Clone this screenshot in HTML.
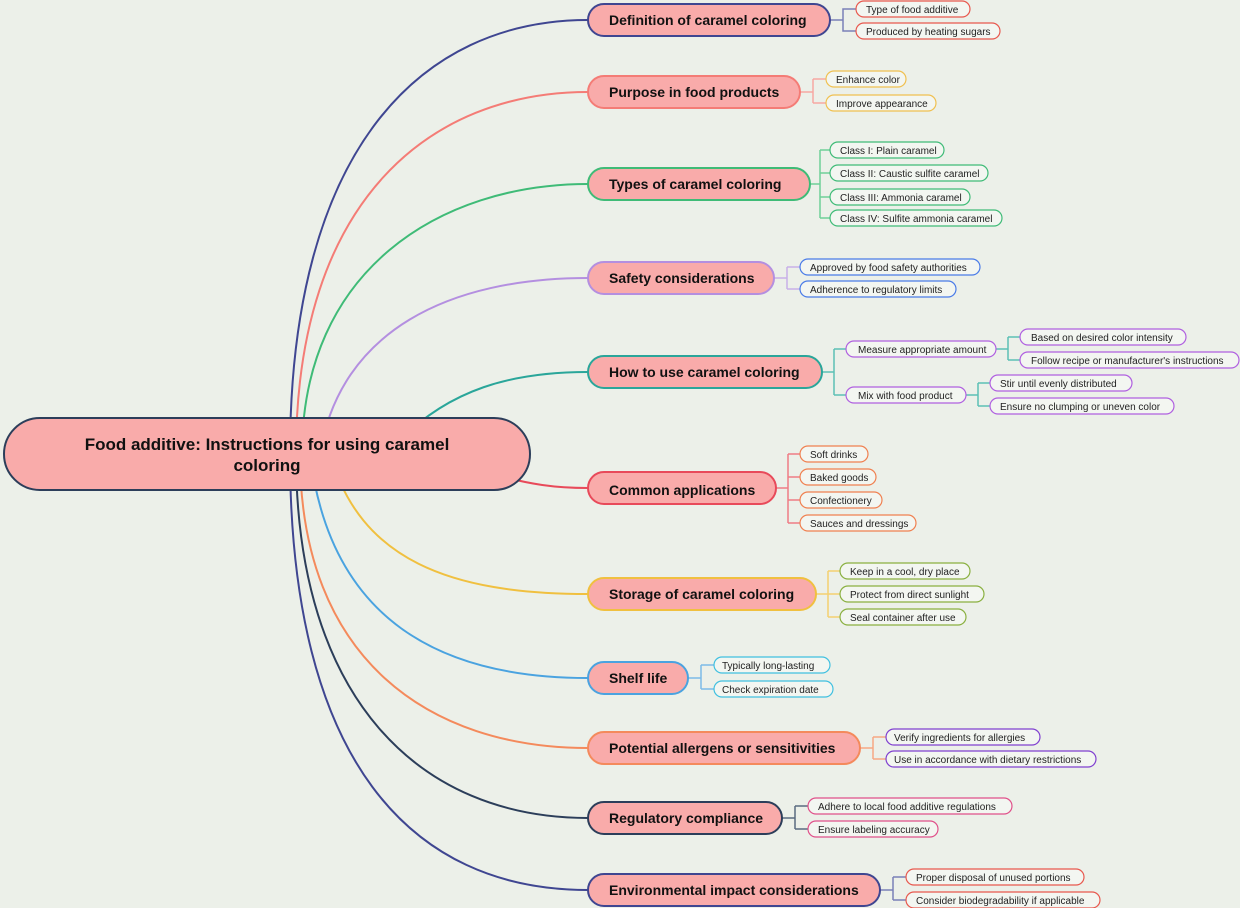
<!DOCTYPE html>
<html><head><meta charset="utf-8"><style>
body{margin:0;background:#ecf0e9;}
svg{display:block}
.b{font-family:"Liberation Sans","DejaVu Sans",sans-serif;font-weight:bold;font-size:14px;fill:#111}
.l{font-family:"Liberation Sans","DejaVu Sans",sans-serif;font-size:10px;fill:#222}
.lf{fill:#f3f6f1;stroke-width:1.2}
.bn{fill:#f9abaa;stroke-width:2}
</style></head><body>
<svg width="1240" height="908" viewBox="0 0 1240 908" xmlns="http://www.w3.org/2000/svg">
<rect width="1240" height="908" fill="#ecf0e9"/>
<g fill="none" stroke-width="2">
<path d="M290 454 C290 150 420 20 588 20" stroke="#3f4691"/>
<path d="M296 454 C296 200 430 92 588 92" stroke="#f47c76"/>
<path d="M302 454 C302 270 440 184 588 184" stroke="#3fbb77"/>
<path d="M320 454 C340 330 450 278 588 278" stroke="#b48fe0"/>
<path d="M400 440 C450 390 510 372 588 372" stroke="#2aa69a"/>
<path d="M480 470 C530 486 560 488 588 488" stroke="#e84a5a"/>
<path d="M330 454 C360 560 450 594 588 594" stroke="#f0c040"/>
<path d="M310 454 C330 620 440 678 588 678" stroke="#4aa3e0"/>
<path d="M300 454 C300 660 430 748 588 748" stroke="#f48a5c"/>
<path d="M296 454 C296 700 420 818 588 818" stroke="#2c3e5a"/>
<path d="M290 454 C290 760 410 890 588 890" stroke="#3f4691"/>
</g>
<g fill="none" stroke-width="1.5">
<path d="M830 20 H843 M848 9 H843 V31 H856 M843 9 H856" stroke="#7a80b8"/>
<path d="M800 92 H813 M813 79 V103 M813 79 H826 M813 103 H826" stroke="#f7a8a2"/>
<path d="M810 184 H820 M820 150 V218 M820 150 H830 M820 173 H830 M820 197 H830 M820 218 H830" stroke="#6fcf98"/>
<path d="M774 278 H787 M787 267 V289 M787 267 H800 M787 289 H800" stroke="#c8b0e8"/>
<path d="M822 372 H834 M834 349 V395 M834 349 H846 M834 395 H846" stroke="#5cc0b5"/>
<path d="M996 349 H1008 M1008 337 V360 M1008 337 H1020 M1008 360 H1020" stroke="#5cc0b5"/>
<path d="M966 395 H978 M978 383 V406 M978 383 H990 M978 406 H990" stroke="#5cc0b5"/>
<path d="M776 488 H788 M788 454 V523 M788 454 H800 M788 477 H800 M788 500 H800 M788 523 H800" stroke="#ef7c85"/>
<path d="M816 594 H828 M828 571 V617 M828 571 H840 M828 594 H840 M828 617 H840" stroke="#f4d070"/>
<path d="M688 678 H701 M701 665 V689 M701 665 H714 M701 689 H714" stroke="#7cbbe8"/>
<path d="M860 748 H873 M873 737 V759 M873 737 H886 M873 759 H886" stroke="#f6a884"/>
<path d="M782 818 H795 M795 806 V829 M795 806 H808 M795 829 H808" stroke="#5a6a80"/>
<path d="M880 890 H893 M893 877 V900 M893 877 H906 M893 900 H906" stroke="#7a80b8"/>
</g>
<rect x="4" y="418" width="526" height="72" rx="36" fill="#f9abaa" stroke="#2c3e5a" stroke-width="2"/>
<text x="267" y="450" text-anchor="middle" font-family="Liberation Sans, DejaVu Sans, sans-serif" font-weight="bold" font-size="17" fill="#111">Food additive: Instructions for using caramel</text>
<text x="267" y="471" text-anchor="middle" font-family="Liberation Sans, DejaVu Sans, sans-serif" font-weight="bold" font-size="17" fill="#111">coloring</text>
<g class="b">
<rect class="bn" x="588" y="4" width="242" height="32" rx="16" stroke="#3f4691"/><text x="609" y="25">Definition of caramel coloring</text>
<rect class="bn" x="588" y="76" width="212" height="32" rx="16" stroke="#f47c76"/><text x="609" y="97">Purpose in food products</text>
<rect class="bn" x="588" y="168" width="222" height="32" rx="16" stroke="#3fbb77"/><text x="609" y="189">Types of caramel coloring</text>
<rect class="bn" x="588" y="262" width="186" height="32" rx="16" stroke="#b48fe0"/><text x="609" y="283">Safety considerations</text>
<rect class="bn" x="588" y="356" width="234" height="32" rx="16" stroke="#2aa69a"/><text x="609" y="377">How to use caramel coloring</text>
<rect class="bn" x="588" y="472" width="188" height="32" rx="16" stroke="#e84a5a"/><text x="609" y="495">Common applications</text>
<rect class="bn" x="588" y="578" width="228" height="32" rx="16" stroke="#f0c040"/><text x="609" y="599">Storage of caramel coloring</text>
<rect class="bn" x="588" y="662" width="100" height="32" rx="16" stroke="#4aa3e0"/><text x="609" y="683">Shelf life</text>
<rect class="bn" x="588" y="732" width="272" height="32" rx="16" stroke="#f48a5c"/><text x="609" y="753">Potential allergens or sensitivities</text>
<rect class="bn" x="588" y="802" width="194" height="32" rx="16" stroke="#2c3e5a"/><text x="609" y="823">Regulatory compliance</text>
<rect class="bn" x="588" y="874" width="292" height="32" rx="16" stroke="#3f4691"/><text x="609" y="895">Environmental impact considerations</text>
</g>
<g class="l">
<rect class="lf" x="856" y="1" width="114" height="16" rx="8" stroke="#e8584e"/><text x="866" y="13">Type of food additive</text>
<rect class="lf" x="856" y="23" width="144" height="16" rx="8" stroke="#e8584e"/><text x="866" y="35">Produced by heating sugars</text>
<rect class="lf" x="826" y="71" width="80" height="16" rx="8" stroke="#f0c050"/><text x="836" y="83">Enhance color</text>
<rect class="lf" x="826" y="95" width="110" height="16" rx="8" stroke="#f0c050"/><text x="836" y="107">Improve appearance</text>
<rect class="lf" x="830" y="142" width="114" height="16" rx="8" stroke="#3fbb77"/><text x="840" y="154">Class I: Plain caramel</text>
<rect class="lf" x="830" y="165" width="158" height="16" rx="8" stroke="#3fbb77"/><text x="840" y="177">Class II: Caustic sulfite caramel</text>
<rect class="lf" x="830" y="189" width="140" height="16" rx="8" stroke="#3fbb77"/><text x="840" y="201">Class III: Ammonia caramel</text>
<rect class="lf" x="830" y="210" width="172" height="16" rx="8" stroke="#3fbb77"/><text x="840" y="222">Class IV: Sulfite ammonia caramel</text>
<rect class="lf" x="800" y="259" width="180" height="16" rx="8" stroke="#4a7be8"/><text x="810" y="271">Approved by food safety authorities</text>
<rect class="lf" x="800" y="281" width="156" height="16" rx="8" stroke="#4a7be8"/><text x="810" y="293">Adherence to regulatory limits</text>
<rect class="lf" x="846" y="341" width="150" height="16" rx="8" stroke="#b060e0"/><text x="858" y="353">Measure appropriate amount</text>
<rect class="lf" x="846" y="387" width="120" height="16" rx="8" stroke="#b060e0"/><text x="858" y="399">Mix with food product</text>
<rect class="lf" x="1020" y="329" width="166" height="16" rx="8" stroke="#b060e0"/><text x="1031" y="341">Based on desired color intensity</text>
<rect class="lf" x="1020" y="352" width="219" height="16" rx="8" stroke="#b060e0"/><text x="1031" y="364">Follow recipe or manufacturer's instructions</text>
<rect class="lf" x="990" y="375" width="142" height="16" rx="8" stroke="#b060e0"/><text x="1000" y="387">Stir until evenly distributed</text>
<rect class="lf" x="990" y="398" width="184" height="16" rx="8" stroke="#b060e0"/><text x="1000" y="410">Ensure no clumping or uneven color</text>
<rect class="lf" x="800" y="446" width="68" height="16" rx="8" stroke="#f08050"/><text x="810" y="458">Soft drinks</text>
<rect class="lf" x="800" y="469" width="76" height="16" rx="8" stroke="#f08050"/><text x="810" y="481">Baked goods</text>
<rect class="lf" x="800" y="492" width="82" height="16" rx="8" stroke="#f08050"/><text x="810" y="504">Confectionery</text>
<rect class="lf" x="800" y="515" width="116" height="16" rx="8" stroke="#f08050"/><text x="810" y="527">Sauces and dressings</text>
<rect class="lf" x="840" y="563" width="130" height="16" rx="8" stroke="#8ab040"/><text x="850" y="575">Keep in a cool, dry place</text>
<rect class="lf" x="840" y="586" width="144" height="16" rx="8" stroke="#8ab040"/><text x="850" y="598">Protect from direct sunlight</text>
<rect class="lf" x="840" y="609" width="126" height="16" rx="8" stroke="#8ab040"/><text x="850" y="621">Seal container after use</text>
<rect class="lf" x="714" y="657" width="116" height="16" rx="8" stroke="#40c0e0"/><text x="722" y="669">Typically long-lasting</text>
<rect class="lf" x="714" y="681" width="119" height="16" rx="8" stroke="#40c0e0"/><text x="722" y="693">Check expiration date</text>
<rect class="lf" x="886" y="729" width="154" height="16" rx="8" stroke="#8040d0"/><text x="894" y="741">Verify ingredients for allergies</text>
<rect class="lf" x="886" y="751" width="210" height="16" rx="8" stroke="#8040d0"/><text x="894" y="763">Use in accordance with dietary restrictions</text>
<rect class="lf" x="808" y="798" width="204" height="16" rx="8" stroke="#e0508a"/><text x="818" y="810">Adhere to local food additive regulations</text>
<rect class="lf" x="808" y="821" width="130" height="16" rx="8" stroke="#e0508a"/><text x="818" y="833">Ensure labeling accuracy</text>
<rect class="lf" x="906" y="869" width="178" height="16" rx="8" stroke="#e8584e"/><text x="916" y="881">Proper disposal of unused portions</text>
<rect class="lf" x="906" y="892" width="194" height="16" rx="8" stroke="#e8584e"/><text x="916" y="904">Consider biodegradability if applicable</text>
</g>
</svg>
</body></html>
